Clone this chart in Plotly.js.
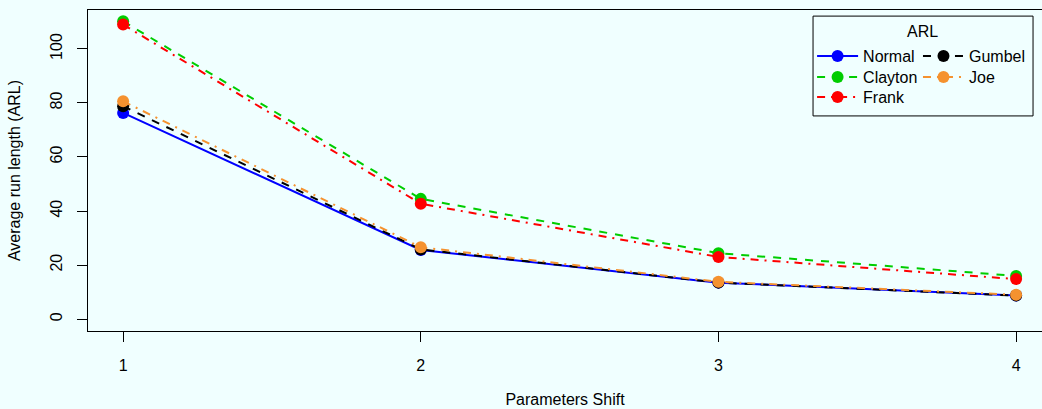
<!DOCTYPE html>
<html><head><meta charset="utf-8">
<script src="https://cdn.plot.ly/plotly-3.0.1.min.js"></script>
<style>body{margin:0;background:#F0FFFF}</style>
</head><body>
<div id="chart" style="width:1042px;height:409px"></div>
<script>
var shifts = [1, 2, 3, 4];
var normalARL  = [76.3, 25.6, 13.5, 8.7];
var claytonARL = [110.2, 44.5, 24.4, 16.0];
var frankARL   = [109.0, 42.7, 23.0, 14.8];
var gumbelARL  = [78.8, 25.8, 13.5, 8.7];
var joeARL     = [80.6, 26.6, 13.8, 9.0];
var yTicks = [0, 20, 40, 60, 80, 100];

function tr(name, y, color, dash, legend) {
  return {x: shifts, y: y, name: name, type: 'scatter', mode: 'lines+markers',
    line: {color: color, width: 2, dash: dash},
    marker: {color: color, size: 12},
    legend: legend, showlegend: true};
}
var data = [
  tr('Normal', normalARL, '#0000FF', 'solid', 'legend'),
  tr('Clayton', claytonARL, '#00CD00', '8px,8px', 'legend2'),
  tr('Frank', frankARL, '#FF0000', '8px,6px,2px,6px', 'legend3'),
  tr('Gumbel', gumbelARL, '#000000', '8px,8px', 'legend4'),
  tr('Joe', joeARL, '#F5922F', '8px,6px,2px,6px', 'legend5')
];
var fnt = {family: '"Liberation Sans", Arial, sans-serif', size: 16, color: '#000'};
function leg(x, y) {
  return {x: x, xanchor: 'left', y: y, yanchor: 'top', bgcolor: 'rgba(0,0,0,0)',
    borderwidth: 0, itemwidth: 41, font: fnt};
}
var layout = {
  width: 1042, height: 409,
  margin: {l: 88, r: 0, t: 10, b: 78},
  paper_bgcolor: '#F0FFFF', plot_bgcolor: '#F0FFFF',
  font: fnt,
  showlegend: true,
  xaxis: {range: [0.882, 4.087], tickvals: shifts, ticktext: shifts.map(String),
    showgrid: false, zeroline: false, showline: true, mirror: true, linecolor: '#000', linewidth: 1,
    ticks: 'outside', ticklen: 10, tickcolor: '#000', ticklabelstandoff: 10,
    title: {text: 'Parameters Shift', font: fnt, standoff: 20}},
  yaxis: {range: [-4.4, 114.4], tickvals: yTicks, ticktext: yTicks.map(String), tickangle: -90,
    showgrid: false, zeroline: false, showline: true, linecolor: '#000', linewidth: 1,
    ticks: 'outside', ticklen: 10, tickcolor: '#000', ticklabelstandoff: 9,
    title: {text: 'Average run length (ARL)', font: fnt, standoff: 22}},
  legend: leg(0.759, 0.9097),
  legend2: leg(0.759, 0.8442),
  legend3: leg(0.759, 0.7819),
  legend4: leg(0.870, 0.9097),
  legend5: leg(0.870, 0.8442),
  shapes: [{type: 'rect', xref: 'paper', yref: 'paper', x0: 0.760, x1: 0.9906, y0: 0.670, y1: 0.981,
    line: {color: '#000', width: 1}, fillcolor: 'rgba(0,0,0,0)'}],
  annotations: [{xref: 'paper', yref: 'paper', x: 0.875, y: 0.934, text: 'ARL', showarrow: false,
    xanchor: 'center', yanchor: 'middle', font: fnt}]
};
Plotly.newPlot('chart', data, layout, {displayModeBar: false, staticPlot: true});
</script>
</body></html>
